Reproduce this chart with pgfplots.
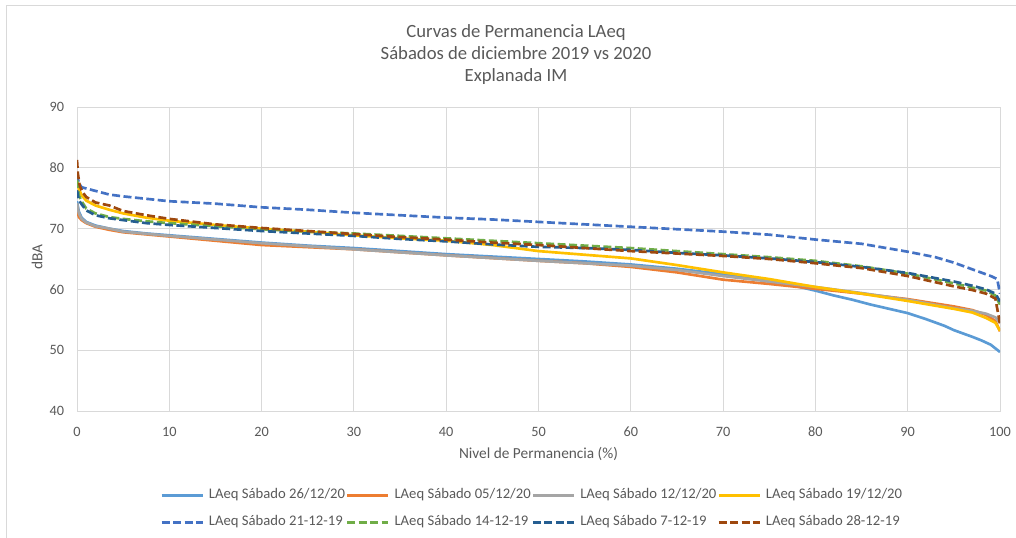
\documentclass[border=0pt]{standalone}
\usepackage{fontspec}
\setmainfont{Carlito}
\usepackage{pgfplots}
\pgfplotsset{compat=1.18}

\definecolor{txt}{HTML}{595959}
\definecolor{grd}{HTML}{D9D9D9}
\definecolor{cA}{HTML}{5B9BD5}
\definecolor{cB}{HTML}{ED7D31}
\definecolor{cC}{HTML}{A5A5A5}
\definecolor{cD}{HTML}{FFC000}
\definecolor{cE}{HTML}{4472C4}
\definecolor{cF}{HTML}{70AD47}
\definecolor{cG}{HTML}{255E91}
\definecolor{cH}{HTML}{9E480E}

\newcommand{\entry}[1]{\makebox[102.75pt][l]{#1}}

\begin{document}
\begin{tikzpicture}
\path[use as bounding box] (0,0) rectangle (762pt,-403.5pt);
% chart frame
\draw[grd, line width=0.75pt] (4.5pt,-403.5pt) -- (4.5pt,-4.5pt) -- (762pt,-4.5pt);
% title
\node[text=txt, font=\fontsize{14}{16.5}\selectfont, align=center, anchor=center]
  at (387pt,-41.2pt) {Curvas de Permanencia LAeq\\Sábados de diciembre 2019 vs 2020\\Explanada IM};

\begin{axis}[
  at={(57.75pt,-308.25pt)}, anchor=south west,
  scale only axis, width=692.25pt, height=228pt,
  xmin=0, xmax=100, ymin=40, ymax=90,
  xtick={0,10,...,100}, ytick={40,50,...,90},
  grid=major, major grid style={grd, line width=0.75pt},
  axis line style={grd, line width=0.75pt},
  tick style={draw=none},
  /pgf/number format/assume math mode=true,
  ticklabel style={font=\fontsize{10.7}{12}\selectfont, text=txt},
  yticklabel style={xshift=-6.2pt},
  xticklabel style={yshift=-8.5pt},
  xlabel={Nivel de Permanencia (\%)}, ylabel={dBA},
  label style={font=\fontsize{11.5}{13}\selectfont, text=txt},
  xlabel style={at={(axis description cs:0.5,-0.1414)}, anchor=center},
  ylabel style={at={(axis description cs:-0.0433,0.507)}, anchor=center},
  legend columns=4,
  legend cell align=left,
  legend image code/.code={\draw[#1] (0pt,0pt) -- (30.75pt,0pt);},
  legend style={at={(0.0899,-0.3224)}, anchor=west, draw=none, fill=none,
    inner sep=0pt, font=\fontsize{11}{13}\selectfont, text=txt,
    row sep=10.25pt,
    nodes={inner xsep=0pt, inner ysep=0pt, text height=7.5pt, text depth=2.5pt},
    /tikz/every odd column/.style={column sep=3.75pt},
    /tikz/every even column/.style={column sep=0pt}},
  every axis plot/.append style={line width=2pt, line join=round},
  dashed line/.style={dash pattern=on 6pt off 2.6pt},
]

% 2020 Saturdays
\addplot[cA] coordinates {
(0,74.5) (0.2,72.8) (0.5,71.8) (1,71.1) (2,70.5) (3.5,70.0) (5,69.6) (7.5,69.2)
(10,68.9) (15,68.3) (20,67.7) (25,67.2) (30,66.8) (35,66.3) (40,65.8) (45,65.4)
(50,65.0) (55,64.6) (60,64.1) (65,63.4) (70,62.5) (73,62.0) (76,60.9) (78,60.5)
(80,59.8) (82,59.0) (84,58.3) (86,57.5) (88,56.8) (90,56.1) (92,55.1) (94,54.0)
(95,53.3) (97,52.2) (98,51.6) (99,50.9) (100,49.7)};
\addlegendentry{\entry{LAeq Sábado 26/12/20}}

\addplot[cB] coordinates {
(0,73.5) (0.2,71.9) (0.5,71.4) (1,70.9) (2,70.3) (3.5,69.8) (5,69.4) (10,68.7)
(15,68.0) (20,67.3) (30,66.6) (40,65.6) (50,64.7) (55,64.3) (60,63.7) (65,62.8)
(70,61.6) (75,60.9) (80,60.1) (85,59.3) (90,58.4) (95,57.2) (97,56.6) (98.5,55.8)
(99.5,54.8) (100,53.1)};
\addlegendentry{\entry{LAeq Sábado 05/12/20}}

\addplot[cC] coordinates {
(0,74.2) (0.2,72.5) (0.5,71.6) (1,71.0) (2,70.4) (3.5,70.0) (5,69.5) (10,68.8)
(15,68.2) (20,67.6) (30,66.6) (40,65.6) (50,64.7) (60,63.9) (65,63.2) (70,62.2)
(75,61.3) (80,60.4) (85,59.4) (90,58.3) (95,56.9) (97,56.5) (98.5,56.0) (99.5,55.4)
(100,54.5)};
\addlegendentry{\entry{LAeq Sábado 12/12/20}}

\addplot[cD] coordinates {
(0,78.0) (0.2,76.5) (0.5,75.5) (1,74.6) (2,73.8) (3.5,73.1) (5,72.5) (7.5,71.8)
(10,71.3) (15,70.6) (20,70.0) (25,69.5) (30,68.9) (35,68.4) (40,68.0) (45,67.3)
(50,66.3) (55,65.7) (60,65.1) (65,64.0) (70,62.8) (75,61.7) (80,60.4) (85,59.3)
(90,58.1) (95,56.8) (97,56.2) (98.5,55.3) (99.5,54.5) (100,53.2)};
\addlegendentry{\entry{LAeq Sábado 19/12/20}}

% 2019 Saturdays
\addplot[cE, dashed line] coordinates {
(0,79.0) (0.2,77.5) (0.5,76.8) (1,76.6) (2,76.2) (3.5,75.6) (5,75.3) (7.5,74.9)
(10,74.5) (15,74.1) (20,73.5) (25,73.1) (30,72.6) (35,72.2) (40,71.8) (45,71.5)
(50,71.1) (55,70.7) (60,70.3) (65,69.9) (70,69.5) (75,69.0) (80,68.2) (85,67.5)
(90,66.2) (93,65.3) (95,64.4) (97,63.3) (99,62.2) (99.7,61.7) (100,59.3)};
\addlegendentry{\entry{LAeq Sábado 21-12-19}}

\addplot[cF, dashed line] coordinates {
(0,78.0) (0.2,75.5) (0.5,74.5) (1,73.3) (2,72.5) (3.5,71.9) (5,71.6) (7.5,71.2)
(10,70.9) (15,70.4) (20,69.9) (25,69.5) (30,69.2) (35,68.8) (40,68.4) (45,68.0)
(50,67.6) (55,67.2) (60,66.8) (65,66.3) (70,65.8) (75,65.3) (80,64.7) (85,63.8)
(90,62.6) (95,61.0) (97,60.3) (98.5,59.8) (99.5,59.0) (100,57.5)};
\addlegendentry{\entry{LAeq Sábado 14-12-19}}

\addplot[cG, dashed line] coordinates {
(0,76.3) (0.2,74.7) (0.5,74.0) (1,73.0) (2,72.2) (3.5,71.7) (5,71.4) (7.5,70.9)
(10,70.6) (15,70.1) (20,69.6) (25,69.2) (30,68.8) (35,68.3) (40,67.9) (45,67.4)
(50,67.0) (55,66.8) (60,66.5) (65,66.0) (70,65.6) (75,65.1) (80,64.5) (85,63.7)
(90,62.7) (95,61.3) (97,60.6) (98.5,60.0) (99.5,59.3) (100,58.0)};
\addlegendentry{\entry{LAeq Sábado 7-12-19}}

\addplot[cH, dashed line] coordinates {
(0,81.3) (0.1,79.0) (0.3,77.0) (0.6,76.0) (1,75.2) (2,74.3) (3.5,73.8) (5,72.9)
(7.5,72.2) (10,71.6) (15,70.7) (20,70.1) (25,69.6) (30,69.1) (35,68.6) (40,68.2)
(45,67.7) (50,67.3) (55,66.8) (60,66.3) (65,65.9) (70,65.5) (75,65.0) (80,64.3)
(85,63.5) (90,62.2) (95,60.5) (97,59.9) (98.5,59.3) (99.5,58.5) (100,54.3)};
\addlegendentry{\entry{LAeq Sábado 28-12-19}}

\end{axis}
\end{tikzpicture}
\end{document}
